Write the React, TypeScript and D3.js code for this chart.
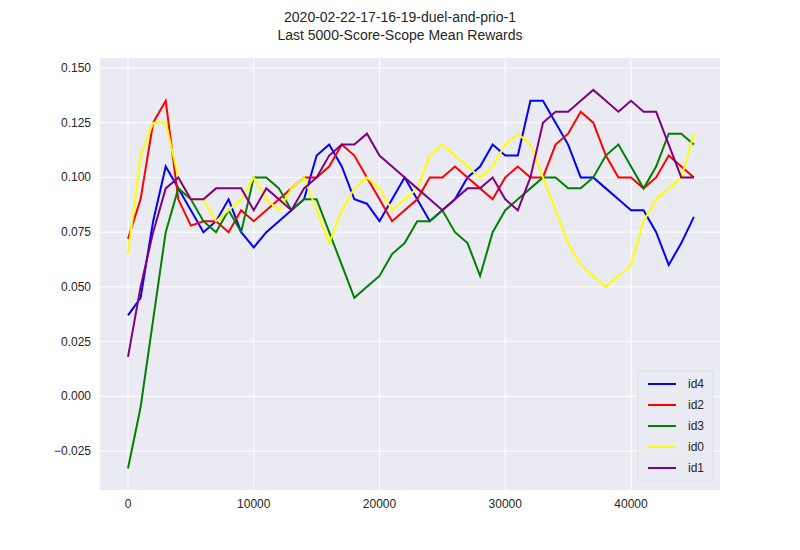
import React from "react";
import * as d3 from "d3";

const steps = d3.range(0, 46000, 1000);
const id4 = [0.037,0.045,0.08,0.105,0.095,0.085,0.075,0.08,0.09,0.075,0.068,0.075,0.08,0.085,0.09,0.11,0.115,0.105,0.09,0.088,0.08,0.09,0.1,0.09,0.08,0.085,0.09,0.1,0.105,0.115,0.11,0.11,0.135,0.135,0.125,0.115,0.1,0.1,0.095,0.09,0.085,0.085,0.075,0.06,0.07,0.082];
const id2 = [0.072,0.09,0.125,0.135,0.09,0.078,0.08,0.08,0.075,0.085,0.08,0.085,0.09,0.095,0.1,0.1,0.105,0.115,0.11,0.1,0.09,0.08,0.085,0.09,0.1,0.1,0.105,0.1,0.095,0.09,0.1,0.105,0.1,0.1,0.115,0.12,0.13,0.125,0.11,0.1,0.1,0.095,0.1,0.11,0.105,0.1];
const id3 = [-0.033,-0.005,0.035,0.075,0.095,0.09,0.08,0.075,0.085,0.075,0.1,0.1,0.095,0.085,0.09,0.09,0.075,0.06,0.045,0.05,0.055,0.065,0.07,0.08,0.08,0.085,0.075,0.07,0.055,0.075,0.085,0.09,0.095,0.1,0.1,0.095,0.095,0.1,0.11,0.115,0.105,0.095,0.105,0.12,0.12,0.115];
const id0 = [0.065,0.11,0.125,0.125,0.1,0.09,0.09,0.08,0.085,0.09,0.1,0.09,0.085,0.095,0.1,0.085,0.07,0.085,0.095,0.1,0.095,0.085,0.09,0.095,0.11,0.115,0.11,0.105,0.1,0.105,0.115,0.12,0.115,0.1,0.085,0.07,0.06,0.055,0.05,0.055,0.06,0.08,0.09,0.095,0.1,0.12];
const id1 = [0.018,0.05,0.075,0.095,0.1,0.09,0.09,0.095,0.095,0.095,0.085,0.095,0.09,0.085,0.095,0.1,0.11,0.115,0.115,0.12,0.11,0.105,0.1,0.095,0.09,0.085,0.09,0.095,0.095,0.1,0.09,0.085,0.1,0.125,0.13,0.13,0.135,0.14,0.135,0.13,0.135,0.13,0.13,0.115,0.1,0.1];
const series = [
  { name: "id4", color: "blue", v: id4 },
  { name: "id2", color: "red", v: id2 },
  { name: "id3", color: "green", v: id3 },
  { name: "id0", color: "yellow", v: id0 },
  { name: "id1", color: "purple", v: id1 },
];
const xTicks = [0, 10000, 20000, 30000, 40000];
const yTicks = [-0.025, 0, 0.025, 0.05, 0.075, 0.1, 0.125, 0.15];

export default function App() {
  const L = 100, R = 720, T = 58, B = 490;
  const x = d3.scaleLinear().domain([0, 40000]).range([128, 631]);
  const y = d3.scaleLinear().domain([-0.025, 0.15]).range([451, 68]);
  const line = d3.line<number>().x((_, i) => x(steps[i])).y(d => y(d));
  const font = "Liberation Sans, Arial, sans-serif";
  return (
    <svg width={800} height={550} style={{ position: "absolute", left: 0, top: 0, fontFamily: font }}>
      <rect width={800} height={550} fill="white" />
      <text x={400} y={22} textAnchor="middle" fontSize={14} fill="#262626">2020-02-22-17-16-19-duel-and-prio-1</text>
      <text x={400} y={40} textAnchor="middle" fontSize={14} fill="#262626">Last 5000-Score-Scope Mean Rewards</text>
      <rect x={L} y={T} width={R - L} height={B - T} fill="#EAEAF2" />
      {xTicks.map(t => <g key={t}>
        <line x1={x(t)} x2={x(t)} y1={T} y2={B} stroke="white" strokeWidth={1} />
        <text x={x(t)} y={B + 18} textAnchor="middle" fontSize={12} fill="#262626">{t}</text>
      </g>)}
      {yTicks.map(t => <g key={t}>
        <line x1={L} x2={R} y1={y(t)} y2={y(t)} stroke="white" strokeWidth={1} />
        <text x={L - 9} y={y(t) + 4} textAnchor="end" fontSize={12} fill="#262626">{t < 0 ? "\u2212" + d3.format(".3f")(-t) : d3.format(".3f")(t)}</text>
      </g>)}
      {series.map(s => <path key={s.name} d={line(s.v) ?? ""} fill="none" stroke={s.color} strokeWidth={2} />)}
      <g>
        <rect x={638} y={371} width={75} height={110} rx={3} fill="#EAEAF2" stroke="#dddddd" opacity={0.8} />
        {series.map((s, i) => <g key={s.name}>
          <line x1={648} x2={676} y1={384 + i * 21} y2={384 + i * 21} stroke={s.color} strokeWidth={2} />
          <text x={688} y={388 + i * 21} fontSize={12} fill="#262626">{s.name}</text>
        </g>)}
      </g>
    </svg>
  );
}
